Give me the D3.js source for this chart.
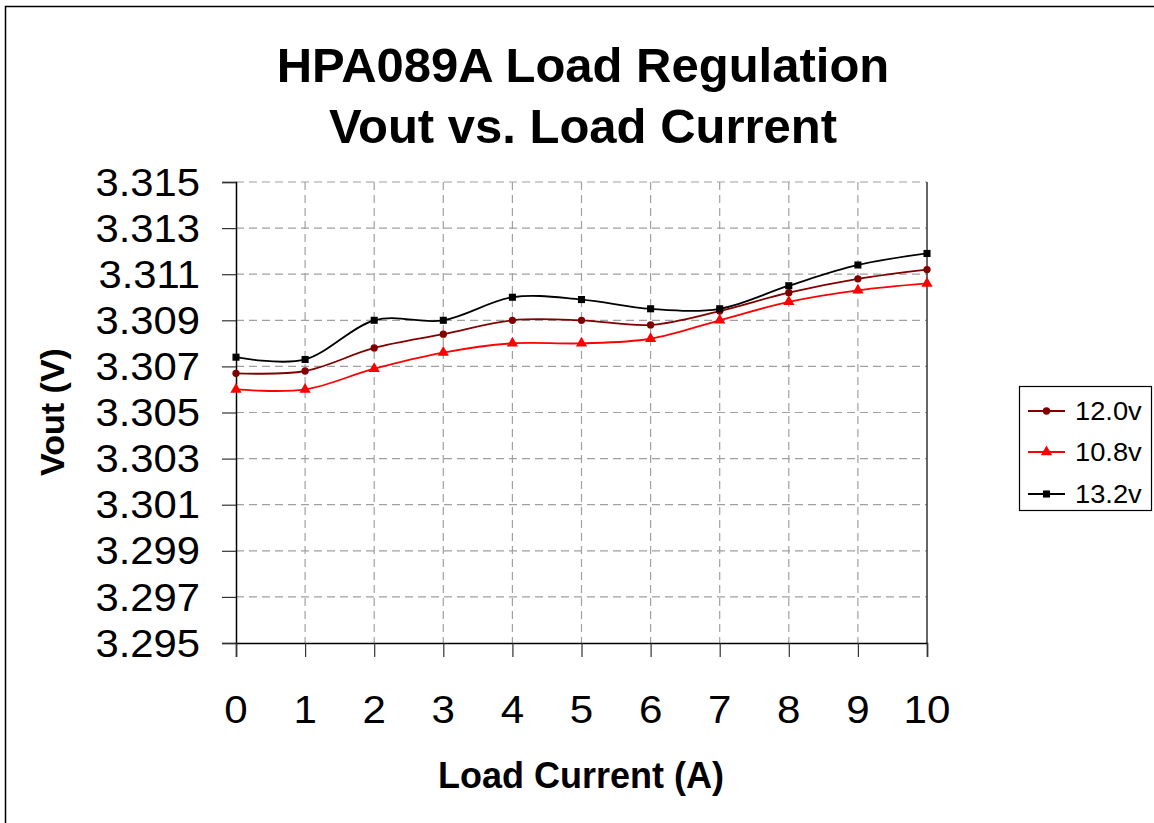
<!DOCTYPE html>
<html>
<head>
<meta charset="utf-8">
<script src="https://cdn.jsdelivr.net/npm/d3@7"></script>
<style>
  html, body { margin: 0; padding: 0; background: #fff; }
  svg { display: block; }
  text { font-family: Arial, "Liberation Sans", sans-serif; fill: #000; }
</style>
</head>
<body>
<svg id="chart" width="1154" height="823"></svg>
<script>
// ---- data ----
const loadCurrent = [0, 1, 2, 3, 4, 5, 6, 7, 8, 9, 10];
const seriesNames = ["12.0v", "10.8v", "13.2v"];
const vout12_0 = [3.3067, 3.3068, 3.3078, 3.3084, 3.3090, 3.3090, 3.3088, 3.3094, 3.3102, 3.3108, 3.3112];
const vout10_8 = [3.3060, 3.3060, 3.3069, 3.3076, 3.3080, 3.3080, 3.3082, 3.3090, 3.3098, 3.3103, 3.3106];
const vout13_2 = [3.3074, 3.3073, 3.3090, 3.3090, 3.3100, 3.3099, 3.3095, 3.3095, 3.3105, 3.3114, 3.3119];
const yTicks = [3.295, 3.297, 3.299, 3.301, 3.303, 3.305, 3.307, 3.309, 3.311, 3.313, 3.315];
const xTicks = [0, 1, 2, 3, 4, 5, 6, 7, 8, 9, 10];
const titleLines = ["HPA089A Load Regulation", "Vout vs. Load Current"];
const xTitle = "Load Current (A)";
const yTitle = "Vout (V)";

const seriesValues = [vout12_0, vout10_8, vout13_2];
const seriesColors = ["#800000", "#ff0000", "#000000"];
const seriesMarkers = [d3.symbolCircle, d3.symbolTriangle, d3.symbolSquare];
const markerSizes = [42, 55, 50];

const svg = d3.select("#chart");

// outer frame (right/bottom edges fall outside the image)
svg.append("rect").attr("x", 5.5).attr("y", 6.5).attr("width", 1160).attr("height", 830)
  .attr("fill", "none").attr("stroke", "#000").attr("stroke-width", 1.5);

const x = d3.scaleLinear().domain([0, 10]).range([236, 927]);
const y = d3.scaleLinear().domain([3.295, 3.315]).range([643, 182]);

// gridlines
const grid = svg.append("g");
grid.selectAll("line.h").data(yTicks.filter(v => v > 3.295)).join("line")
  .attr("x1", x(0)).attr("x2", x(10)).attr("y1", d => y(d)).attr("y2", d => y(d))
  .attr("stroke", "#a0a0a0").attr("stroke-width", 1.2).attr("stroke-dasharray", "8,5");
grid.selectAll("line.v").data(xTicks.filter(v => v > 0 && v < 10)).join("line")
  .attr("x1", d => x(d)).attr("x2", d => x(d)).attr("y1", y(3.315)).attr("y2", y(3.295))
  .attr("stroke", "#a0a0a0").attr("stroke-width", 1.2).attr("stroke-dasharray", "8,5");
// right edge line
svg.append("line").attr("x1", x(10)).attr("x2", x(10)).attr("y1", y(3.315)).attr("y2", y(3.295))
  .attr("stroke", "#333").attr("stroke-width", 1.5);

// axes
const yAxis = d3.axisLeft(y).tickValues(yTicks).tickSize(14).tickFormat("");
const gy = svg.append("g").attr("transform", `translate(${x(0)},0)`).call(yAxis);
const xAxis = d3.axisBottom(x).tickValues(xTicks).tickSize(14).tickFormat("");
const gx = svg.append("g").attr("transform", `translate(0,${y(3.295)})`).call(xAxis);
[gy, gx].forEach(g => {
  g.select(".domain").attr("stroke", "#000").attr("stroke-width", 1.5);
  g.selectAll(".tick line").attr("stroke", "#333").attr("stroke-width", 1.2);
});

// tick labels
const tickFmt = d3.format(".3f");
svg.append("g").selectAll("text").data(yTicks).join("text")
  .attr("transform", d => `translate(200,${y(d)}) scale(1.1,1)`)
  .attr("dy", "0.36em").attr("text-anchor", "end").attr("font-size", 38)
  .text(d => tickFmt(d));
svg.append("g").selectAll("text").data(xTicks).join("text")
  .attr("transform", d => `translate(${x(d)},723) scale(1.08,1)`)
  .attr("text-anchor", "middle").attr("font-size", 39)
  .text(d => d);

// titles
svg.append("g").selectAll("text").data(titleLines).join("text")
  .attr("x", 583).attr("y", (d, i) => 82 + i * 61)
  .attr("text-anchor", "middle").attr("font-size", 49).attr("font-weight", "bold")
  .text(d => d);
svg.append("text").attr("x", 581).attr("y", 788).attr("text-anchor", "middle")
  .attr("font-size", 36).attr("font-weight", "bold").text(xTitle);
svg.append("text").attr("transform", "translate(64,412) rotate(-90)").attr("text-anchor", "middle")
  .attr("font-size", 34).attr("font-weight", "bold").text(yTitle);

// series
const line = d3.line().x((d, i) => x(loadCurrent[i])).y(d => y(d)).curve(d3.curveCardinal.tension(0));
seriesValues.forEach((vals, si) => {
  const g = svg.append("g");
  g.append("path").datum(vals).attr("d", line).attr("fill", "none")
    .attr("stroke", seriesColors[si]).attr("stroke-width", 1.8);
  g.selectAll("path.m").data(vals).join("path").attr("class", "m")
    .attr("transform", (d, i) => `translate(${x(loadCurrent[i])},${y(d)})`)
    .attr("d", d3.symbol().type(seriesMarkers[si]).size(markerSizes[si]))
    .attr("fill", seriesColors[si]);
});

// legend
const lg = svg.append("g");
lg.append("rect").attr("x", 1019.5).attr("y", 386.5).attr("width", 132).attr("height", 124)
  .attr("fill", "#fff").attr("stroke", "#000").attr("stroke-width", 1.2);
const legendY = [411, 452, 494];
seriesNames.forEach((name, si) => {
  const ly = legendY[si];
  lg.append("line").attr("x1", 1028).attr("x2", 1065).attr("y1", ly).attr("y2", ly)
    .attr("stroke", seriesColors[si]).attr("stroke-width", 1.8);
  lg.append("path").attr("transform", `translate(1046.5,${ly})`)
    .attr("d", d3.symbol().type(seriesMarkers[si]).size(markerSizes[si]))
    .attr("fill", seriesColors[si]);
  lg.append("text").attr("transform", `translate(1075,${ly}) scale(1.05,1)`).attr("dy", "0.36em")
    .attr("font-size", 26).text(name);
});
</script>
</body>
</html>
